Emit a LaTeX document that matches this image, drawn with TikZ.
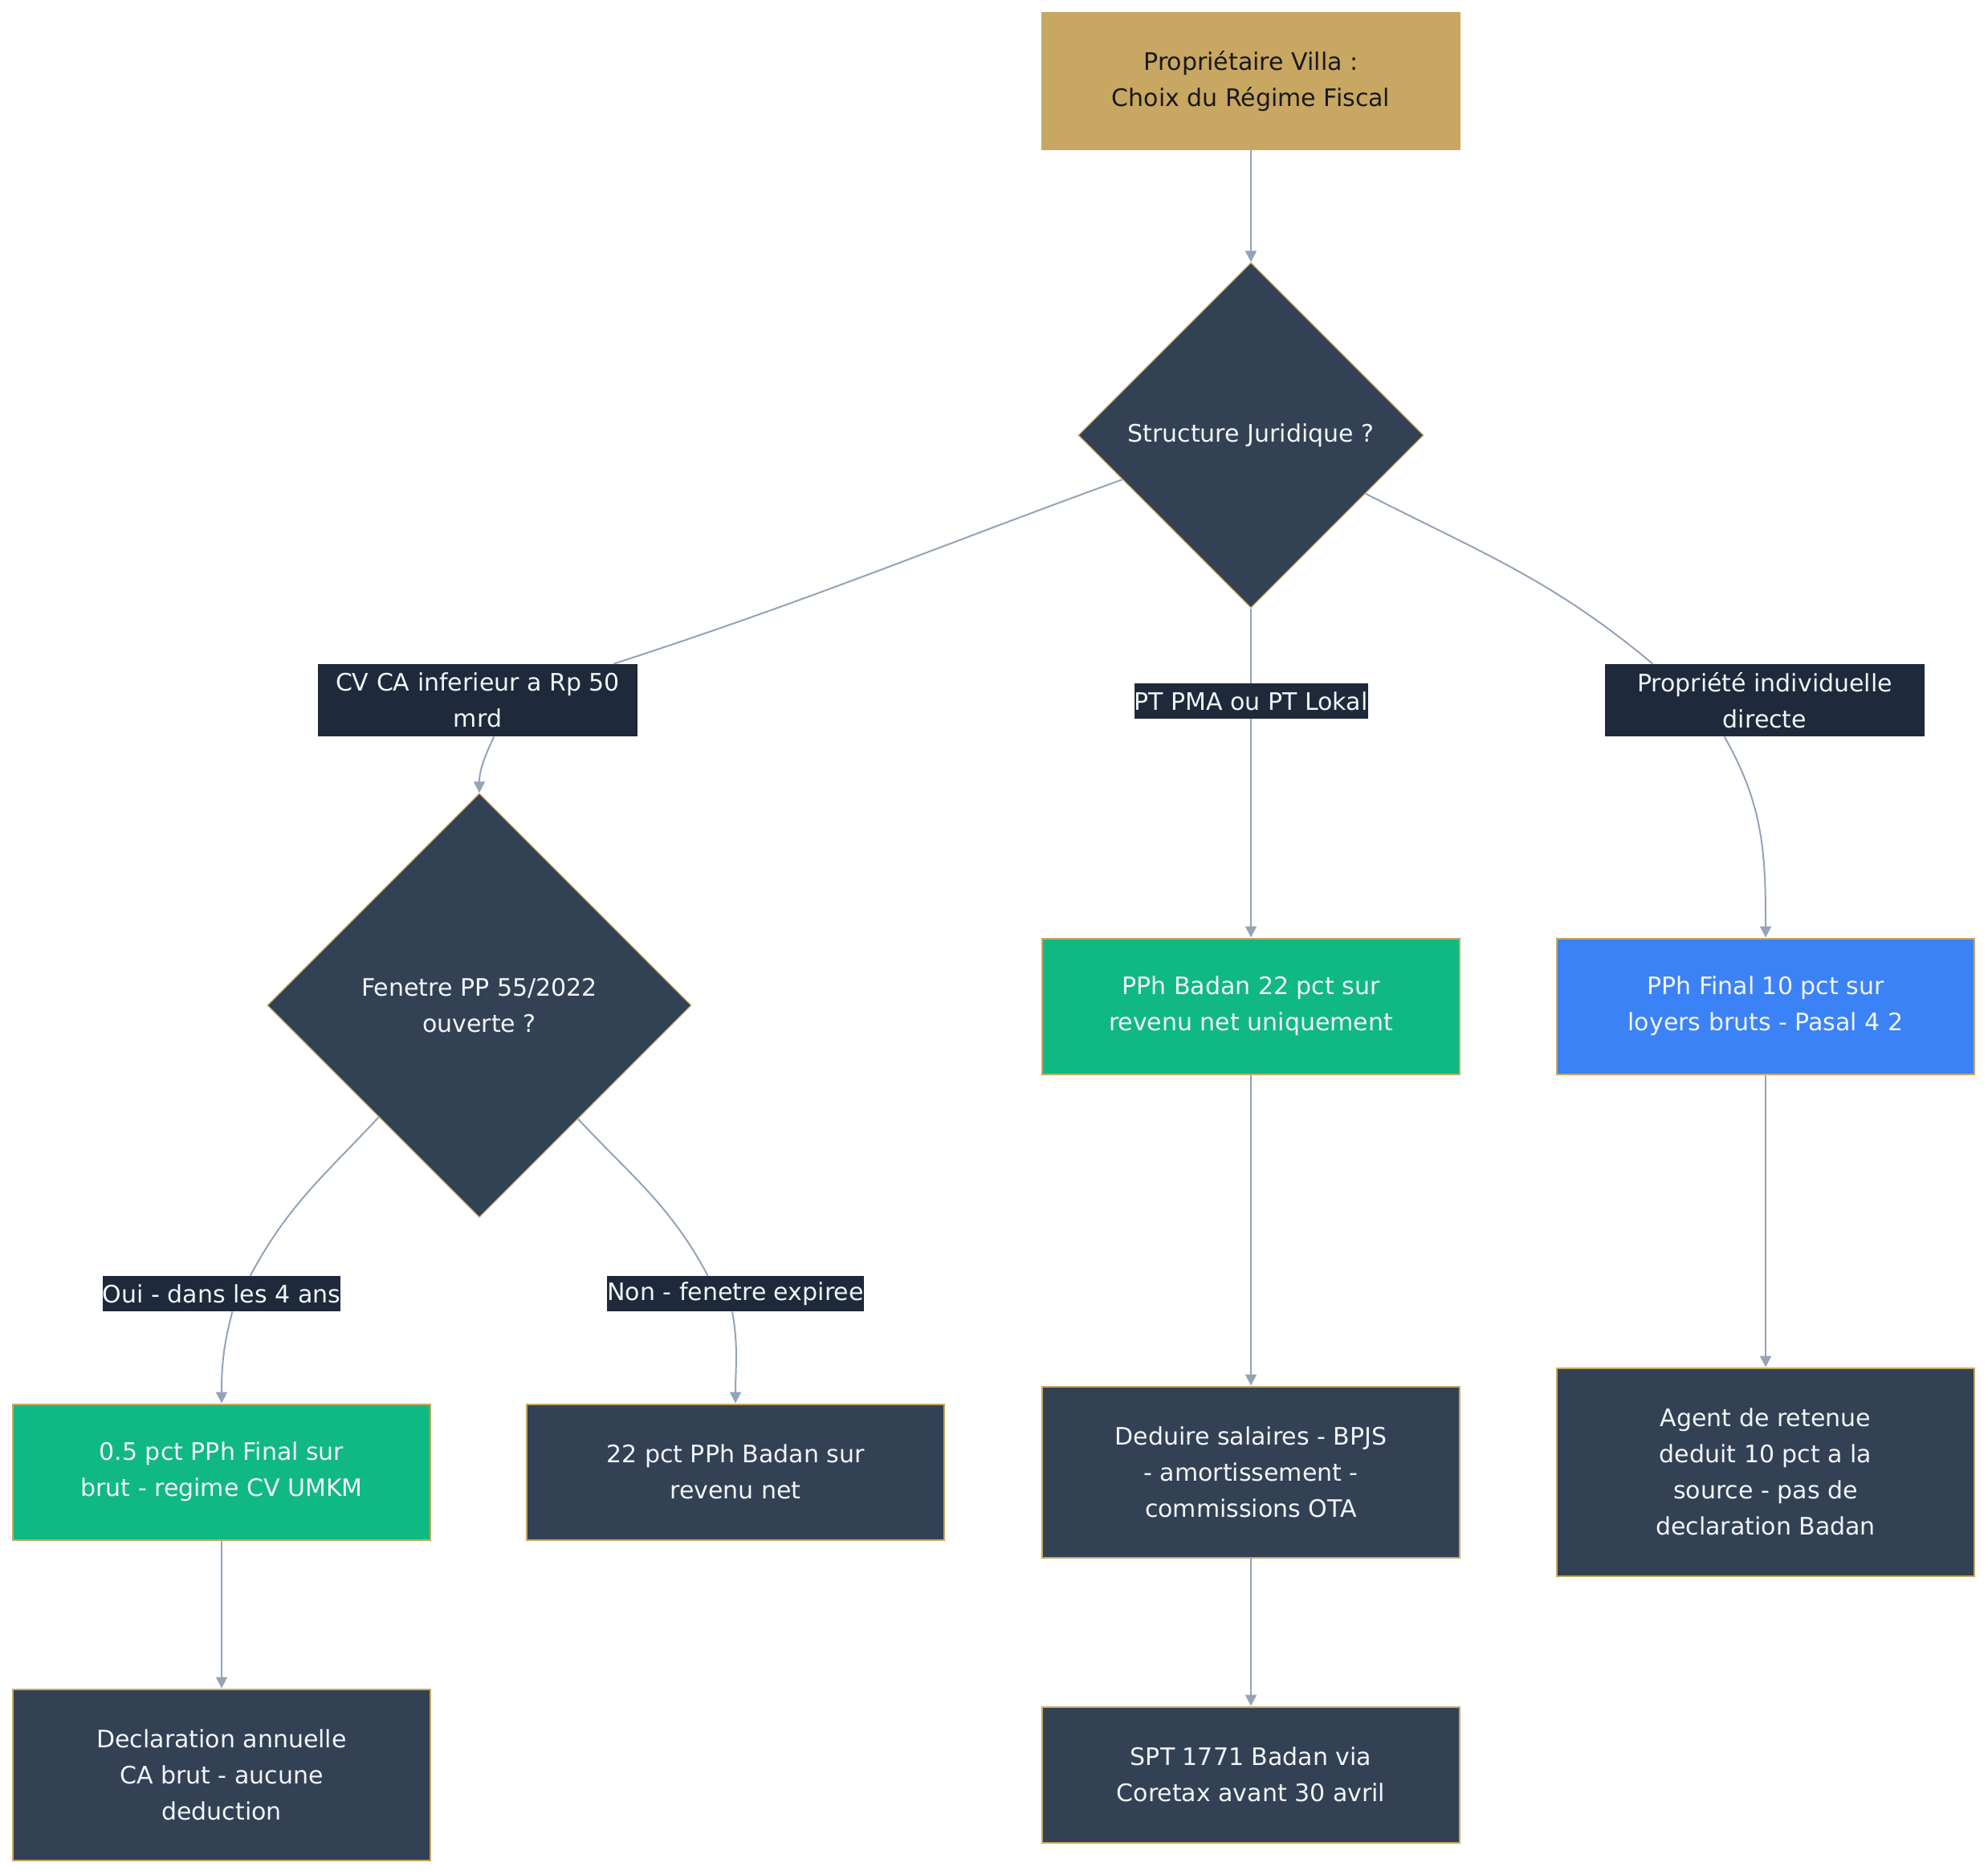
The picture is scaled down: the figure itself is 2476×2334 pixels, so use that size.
\documentclass[tikz,border=0pt]{standalone}
\usepackage{fontspec}
\setmainfont{DejaVu Sans}
\usetikzlibrary{shapes.geometric,arrows.meta}

\definecolor{gold}{RGB}{200,167,98}
\definecolor{slate}{RGB}{51,65,85}
\definecolor{labelbg}{RGB}{30,41,59}
\definecolor{okgreen}{RGB}{16,185,129}
\definecolor{finblue}{RGB}{59,130,246}
\definecolor{wire}{RGB}{148,163,184}
\definecolor{lighttext}{RGB}{241,245,249}

\begin{document}
\begin{tikzpicture}[x=0.5pt,y=-0.5pt,
  txt/.style={font=\fontsize{15pt}{22.5pt}\selectfont,align=center,inner sep=0pt},
  box/.style={txt,draw=gold,line width=1pt,fill=slate,text=lighttext,minimum width=260pt,minimum height=84.5pt},
  choice/.style={txt,shape=diamond,aspect=1,draw=gold,line width=0.6pt,fill=slate,text=lighttext},
  tag/.style={txt,fill=labelbg,text=lighttext,minimum height=22pt},
  wireline/.style={draw=wire,line width=1pt},
  arr/.style={wireline,-{Triangle[width=7pt,length=7pt]}}]

\useasboundingbox (0,0) rectangle (2476,2334);

\node[box,fill=gold,text=black!90,minimum height=85pt] (owner) at (1558,101) {Propriétaire Villa :\\Choix du Régime Fiscal};
\node[choice,minimum width=215pt,minimum height=215pt] (legal) at (1558,542) {Structure Juridique ?};

\node[tag,minimum width=199pt,minimum height=45pt] (cvtag) at (595,872) {CV CA inferieur a Rp 50\\mrd};
\node[tag,minimum width=144.5pt] (pttag) at (1558,873) {PT PMA ou PT Lokal};
\node[tag,minimum width=199pt,minimum height=45pt] (indtag) at (2198,872) {Propriété individuelle\\directe};

\node[choice,minimum width=264pt,minimum height=264pt] (window) at (597,1252) {Fenetre PP 55/2022\\ouverte ?};
\node[box,fill=okgreen] (badan) at (1558,1253) {PPh Badan 22 pct sur\\revenu net uniquement};
\node[box,fill=finblue] (final) at (2199,1253) {PPh Final 10 pct sur\\loyers bruts - Pasal 4 2};

\node[tag,minimum width=147.5pt] (ouitag) at (276,1611) {Oui - dans les 4 ans};
\node[tag,minimum width=158.5pt] (nontag) at (916,1611) {Non - fenetre expiree};

\node[box,fill=okgreen] (umkm) at (276,1833) {0.5 pct PPh Final sur\\brut - regime CV UMKM};
\node[box] (netcv) at (916,1833) {22 pct PPh Badan sur\\revenu net};
\node[box,minimum height=106.5pt] (deduct) at (1558,1833) {Deduire salaires - BPJS\\- amortissement -\\commissions OTA};
\node[box,minimum height=129.5pt] (agent) at (2199,1833) {Agent de retenue\\deduit 10 pct a la\\source - pas de\\declaration Badan};

\node[box,minimum height=106.5pt] (annual) at (276,2210) {Declaration annuelle\\CA brut - aucune\\deduction};
\node[box] (spt) at (1558,2210) {SPT 1771 Badan via\\Coretax avant 30 avril};

\draw[arr] (owner) -- (legal);

\draw[wireline] (legal.199) to[out=200,in=18] (cvtag.15);
\draw[arr] (cvtag.-66) to[out=-115,in=90] (window.north);

\draw[wireline] (legal.south) -- (pttag.north);
\draw[arr] (pttag.south) -- (badan.north);

\draw[wireline] (legal.-27) to[out=-27,in=140] (indtag.162);
\draw[arr] (indtag.222) to[out=-60,in=90] (final.north);

\draw[wireline] (window.228) to[out=-133,in=62] (ouitag.32);
\draw[arr] (ouitag.-59) to[out=-105,in=90] (umkm.north);

\draw[wireline] (window.-49) to[out=-47,in=118] (nontag.147);
\draw[arr] (nontag.-100) to[out=-80,in=90] (netcv.north);

\draw[arr] (umkm) -- (annual);
\draw[arr] (badan) -- (deduct);
\draw[arr] (deduct) -- (spt);
\draw[arr] (final) -- (agent);

\end{tikzpicture}
\end{document}
